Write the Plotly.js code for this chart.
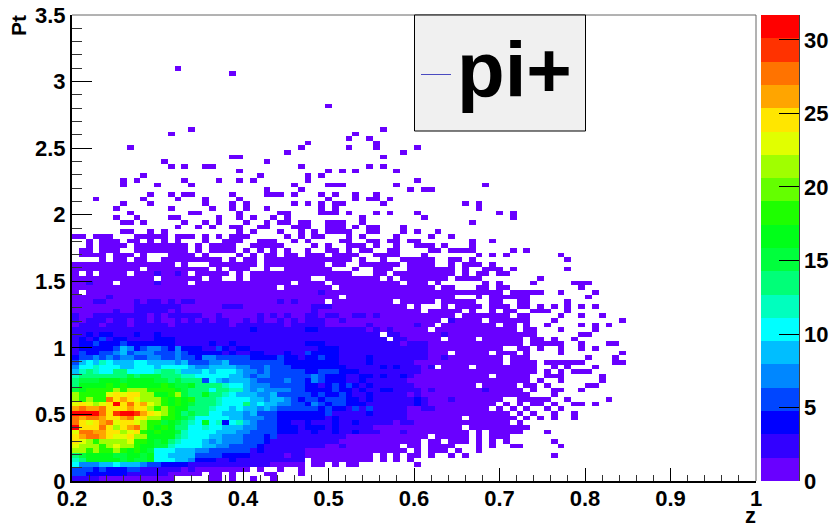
<!DOCTYPE html>
<html>
<head>
<meta charset="utf-8">
<script src="https://cdn.plot.ly/plotly-3.0.1.min.js"></script>
<style>html,body{margin:0;padding:0;background:#fff}#chart{width:829px;height:527px}</style>
</head>
<body>
<div id="chart"></div>
<script>
// Bin layout of the histogram
const zBinStart = 0.2, zBinWidth = 0.008;
const ptBinStart = 0, ptBinWidth = 0.035;
const binCount = 100;

// Counts; one string per Pt bin (row 0 first), base-36, '.' = empty bin.
// Columns 0-33 (z 0.2 - 0.472)
const leftRows = [
"222211111111111.....11.1..1..1....",
"5544444433332211111.11.1....11....",
"55545444553332321211111111.1..1...",
"a77788a99975544443333222322221"+"1111",
"cdgggggfgffgaaa887444334332322"+"2222",
"efhhggffghfgba9988555544443323"+"2122",
"lljljiljhjhfaba988776666553433"+"3222",
"nllljlnlljhhffcaaba887766554333322",
"onljllllnjihfgecbaa878777655433223",
"oqrrqonnollhhggecaaa88777665453333",
"nrrqqoolnojhihgfcaaaa9987755664443",
"voooroloqrljhigedbacaa988776654443",
"ronoqrnoonljifhfecahac4bc975654433",
"rqrrqooqrnolljigfdbabaa98777554444",
"vvvvrouvvuqonljhefedab988786554444",
"qrqqroooqooljljhgeedcba9a997876555",
"nonlnovoroqnljhjgfeddcaaad9a987755",
"ljlijroqonllligjhiedecaaaa99788754",
"lijijnonoollhhjlfdegedca9987786555",
"fhiijilillljiijgfeddbddcc979777765",
"eghhhihjhhhhhihffgeddecab877766655",
"dfffghgfgghhffefddd5a8798876666755",
"ceddeeeefefffeedccaaaaa88767765556",
"9cdcaaedaaaacdec988a9aaa9776755555",
"7aacaaa99bbb9aaba8778899776575"+"5544",
"59a9ca889aa99887855577866555565444",
"4567575776677557554776655544445443",
"3544557867775567544444343344333433",
"3444445874577547444335434433333333",
"3445444544444443333343342333333222",
"2434534433334443333322322332223322",
"3243443334334233332323222333322222",
"2223333332233323333323332243333323",
"1222122212322212222322212232323122",
"2123212213312112121212211212112121",
"2113322232212122233112111112121211",
"1111112112322212111111111111111111",
"1111111113222222111111222111111111",
"1112211112122121221111111111112121",
"1111121111111111111111111111111111",
"1.11111111111111111111111111111111",
"111111111111111111111111111111.111",
"112111.1111131111.11111111111111.1",
"111111111111.111111.11..1.11111111",
"1.1.1111.11131131.11111.1.11111111",
"1111111111.111111111.1.111..1..111",
"111111111111111.1...1111111.111111"
];

// Columns 34-65 (z 0.472 - 0.728)
const midRows = [
"","","",
".11.1.11........1...............",
".111111111.1.1.1................",
"1111111111.1.1.11.1..1.1........",
"111111111111111.1.111.1..1......",
"22211211111111.11.1111...1.1..11",
"22222111111111111.11.111.1.1.1..",
"222222111111111111.11111.1.111..",
"343343242231112111111111.1.11111",
"44434222221111111111111.11111111",
"433342342222312211111111111111.1",
"44434322322223211111111.1111111.",
"444533323422222111111111111111.1",
"554544352523222112211111111.1.1.",
"4754654443322232421111111111.1.1",
"55455544343332224211121111111..1",
"54544542343322212111111111111111",
"44445443433443332121111111211111",
"4424545434323332111111111.11111.",
"47544433423333311111111111111111",
"575444334434334211111111111.1111",
"44555444333333332111111111111111",
"444444333334343321 2.1111.1111111".replace(" ",""),
"44444333343223231111111111111.11",
"44544332243222322211211111111.11",
"544443332332222222111.11111.111.",
"33444323223222222211111111111..1",
"44432322222222122211111111111111",
"332222222222.2211111.1111.111111",
"32222222222.22111111211111111111",
"443222222121211111.111111111111.",
"2221111112111111211.11111111.11.",
"22211211111111111111.21111.11111",
"2212211221211111111111.1111111.1",
"12111111111111111.11111.1..1.11.",
"122211111111111.1...1.1111.111.1",
"111.111111111.11111.11111..11..1",
"11111.1111111111111111...1.11111",
"11211111111111111111111111111.11",
"1111.11111111111111.11...11.11.."
];

// Single-count bins outside those blocks: [Pt bin, [z bins]]
const singleCells = [
[88,[15]],[87,[23]],[80,[37]],
[75,[17,45]],[74,[14,41]],[73,[40,43]],[72,[34,44]],[71,[8,33,40,44,50]],
[70,[31,48]],[69,[23,24,45]],[68,[13,28]],[67,[14,16,19,20,33,43,45]],
[66,[24,37,39,41,47]],[65,[10,27,34,36]],[64,[7,9,16,21,24,26,34,50]],
[63,[7,12,17,32,37,38,39,47,60]],[62,[28,33,49,51,52]],
[61,[11,14,16,17,23,28,29,30,32,36,38,41,44]],[60,[3,10,15,19,24,37,41,43,44,46]],
[59,[7,11,19,23,25,32,34,36,38,39,45,57,59]],[58,[6,14,20,23,25,28,36,38,59]],
[57,[8,17,18,24,30,31,36,37,38,40,44,46,50,62,64]],
[56,[6,9,14,15,21,24,26,29,31,42,51,64]],
[55,[7,8,10,16,19,21,25,28,30,31,33,34,37,38,39,42,58]],
[54,[15,18,20,23,24,27,28,32,33,34,37,38,39,41,43,44,48]],
[53,[7,8,11,13,24,26,30,33,35,37,38,39,40,43,44,48,50,53]],
[52,[0,1,3,4,5,9,10,11,12,13,15,16,17,19,21,23,24,25,31,33,35,36,40,42,47,52,55]],
[51,[2,4,5,6,8,9,11,13,15,19,22,23,24,27,28,29,32,34,39,40,43,44,46,47,49,50,58,61]],
[50,[2,4,5,6,7,9,10,11,12,13,14,15,16,18,20,21,22,23,26,27,28,29,30,35,37,40,41,42,44,47,50,51,52,54,58]],
[49,[1,2,4,5,6,9,10,11,12,13,14,15,16,18,20,21,22,23,25,27,29,31,34,37,38,40,42,43,46,47,52,53,55,56,57,58,64,66]],
[48,[1,2,3,4,6,7,8,10,14,15,16,17,19,24,26,28,29,31,32,34,35,36,38,39,40,41,44,45,46,47,51,59,61,63,71]],
[47,[4,6,7,9,10,13,14,15,16,17,18,19,20,21,23,25,26,28,29,30,31,32,33,34,35,36,37,38,39,40,42,45,48,49,50,51,52,55,56,58,72]],
[46,[34,35,36,38,39,42,43,44,45,46,47,49,50,51,52,55,57,58,59,61]],
[45,[34,35,36,37,41,44,45,46,49,50,51,52,53,54,55,57,60,61,62,64,72]],
[44,[34,35,36,37,38,39,40,44,45,47,48,49,50,51,52,53,54,55,57,59,60,62,63]],
[43,[34,37,38,39,40,41,42,43,44,46,48,49,50,51,52,53,54,56,57,58,59,68]],
[42,[34,35,36,38,39,40,41,42,43,44,45,46,47,49,50,51,53,60,62,67,73,74,75]],
[41,[74]],[40,[66,67,68,71,76]],[39,[66,75]],[38,[66,72]],[37,[66,68,70,72,74,76]],
[36,[67,68,69,72]],[35,[66,71,74,77]],[34,[66,70,80]],[33,[66,69,74,76,78]],
[32,[66,67,71,76]],[31,[66,67,74,75]],[30,[67,68,70,73]],[29,[67,68,69,70,71,74,78,79]],
[28,[66,68,71,74,76]],[27,[66,71,80]],[26,[66,75,79]],[25,[66,67,69,70,71,72,73,74,79,80]],
[24,[66,67,70,72,76]],[23,[66,67,69,71,73,74,75]],[22,[66,69,70,71,77]],[21,[66,68,71,77]],
[20,[66,67,69,75,76]],[19,[67,70,71,74]],[18,[66,70]],[17,[66,67,68,69,72,78]],
[16,[67,68,70,73,74,76]],[15,[66,69,71]],[14,[67,70,73]],[13,[66,68,70,73]],
[11,[66]],[10,[69]],[8,[70]],[7,[71]],[5,[70]],
[3,[32,33]],[2,[33]],[1,[33]]
];

// Palette bands, bottom to top
const paletteBands = [
"rgb(105,0,255)","rgb(50,0,255)","rgb(0,0,255)","rgb(0,70,255)","rgb(0,135,255)",
"rgb(0,190,255)","rgb(0,255,255)","rgb(0,255,190)","rgb(0,255,120)","rgb(0,255,60)",
"rgb(0,255,25)","rgb(30,255,0)","rgb(100,255,0)","rgb(160,255,0)","rgb(225,255,0)",
"rgb(255,230,0)","rgb(255,165,0)","rgb(255,115,0)","rgb(255,50,0)","rgb(255,0,0)"
];
const countMax = 31.7;
const countTicks = [0,5,10,15,20,25,30];
const legendLabel = "pi+";

// Assemble the grid
const grid = Array.from({length:binCount},()=>Array(binCount).fill(null));
function fill(rows, firstCol){
  rows.forEach((s,r)=>{
    for(let i=0;i<s.length;i++){
      if(s[i]!=='.' && firstCol+i<binCount) grid[r][firstCol+i]=parseInt(s[i],36);
    }
  });
}
fill(leftRows,0);
fill(midRows,34);
singleCells.forEach(([r,cols])=>cols.forEach(c=>{grid[r][c]=1;}));

const steps=[];
paletteBands.forEach((c,i)=>{
  steps.push([i/paletteBands.length,c]);
  steps.push([(i+1)/paletteBands.length,c]);
});

const fontFam="'Liberation Sans',Arial,sans-serif";
const tickFont={family:fontFam,size:22,color:"#000",weight:700};
const W=829,H=527,L=72,R=756,T=15,B=481;
const px=v=>(v-L)/(R-L), py=v=>(B-v)/(B-T);

const trace={
  type:"heatmap",z:grid,
  x0:zBinStart+zBinWidth/2,dx:zBinWidth,
  y0:ptBinStart+ptBinWidth/2,dy:ptBinWidth,
  zmin:0,zmax:countMax,colorscale:steps,zsmooth:false,hoverongaps:false,
  colorbar:{
    x:px(761),xanchor:"left",xref:"paper",y:0,yanchor:"bottom",len:1,lenmode:"fraction",
    thickness:38,thicknessmode:"pixels",xpad:0,ypad:0,outlinewidth:0,
    ticks:"inside",ticklen:20,tickwidth:1,tickcolor:"#000",
    tickvals:countTicks,ticktext:countTicks.map(String),tickfont:tickFont
  }
};

const layout={
  width:W,height:H,
  margin:{l:L,r:W-R,t:T,b:H-B,pad:0,autoexpand:false},
  paper_bgcolor:"#fff",plot_bgcolor:"#fff",
  showlegend:false,
  xaxis:{range:[0.2,1],dtick:0.1,tick0:0.2,ticks:"inside",ticklen:13,tickwidth:1,tickcolor:"#000",
    minor:{dtick:0.02,ticks:"inside",ticklen:6,tickwidth:1,tickcolor:"#333",showgrid:false},
    showgrid:false,zeroline:false,showline:true,linecolor:"#000",linewidth:2,
    tickfont:tickFont,tickformat:"~g",layer:"above traces",ticklabelstandoff:-3},
  yaxis:{range:[0,3.5],dtick:0.5,tick0:0,ticks:"inside",ticklen:20,tickwidth:1,tickcolor:"#000",
    minor:{dtick:0.1,ticks:"inside",ticklen:10,tickwidth:1,tickcolor:"#333",showgrid:false},
    showgrid:false,zeroline:false,showline:true,linecolor:"#000",linewidth:2,
    tickfont:tickFont,tickformat:"~g",layer:"above traces"},
  shapes:[
    {type:"line",xref:"paper",yref:"paper",x0:0,x1:1,y0:1,y1:1,line:{color:"#666",width:1}},
    {type:"line",xref:"paper",yref:"paper",x0:1,x1:1,y0:0,y1:1,line:{color:"#666",width:1}},
    {type:"line",xref:"paper",yref:"paper",x0:px(799),x1:px(799),y0:0,y1:1,line:{color:"#000",width:1.5}},
    {type:"rect",xref:"paper",yref:"paper",x0:px(414.5),x1:px(585.5),y0:py(131),y1:py(15),fillcolor:"#f0f0f0",line:{color:"#000",width:1}},
    {type:"line",xref:"paper",yref:"paper",x0:px(421),x1:px(451),y0:py(74.5),y1:py(74.5),line:{color:"#4a4ac0",width:1}}
  ],
  annotations:[
    {text:legendLabel,xref:"paper",yref:"paper",x:px(455),y:py(70),xanchor:"left",yanchor:"middle",showarrow:false,
     font:{family:fontFam,size:78,color:"#000",weight:700}},
    {text:"z",xref:"paper",yref:"paper",x:px(750),y:py(515),xanchor:"center",yanchor:"middle",showarrow:false,
     font:{family:fontFam,size:22,color:"#000",weight:700}},
    {text:"Pt",xref:"paper",yref:"paper",x:px(18),y:py(26),xanchor:"center",yanchor:"middle",showarrow:false,textangle:-90,
     font:{family:fontFam,size:21,color:"#000",weight:700}}
  ]
};
Plotly.newPlot("chart",[trace],layout,{displayModeBar:false,staticPlot:true});
</script>
</body>
</html>
